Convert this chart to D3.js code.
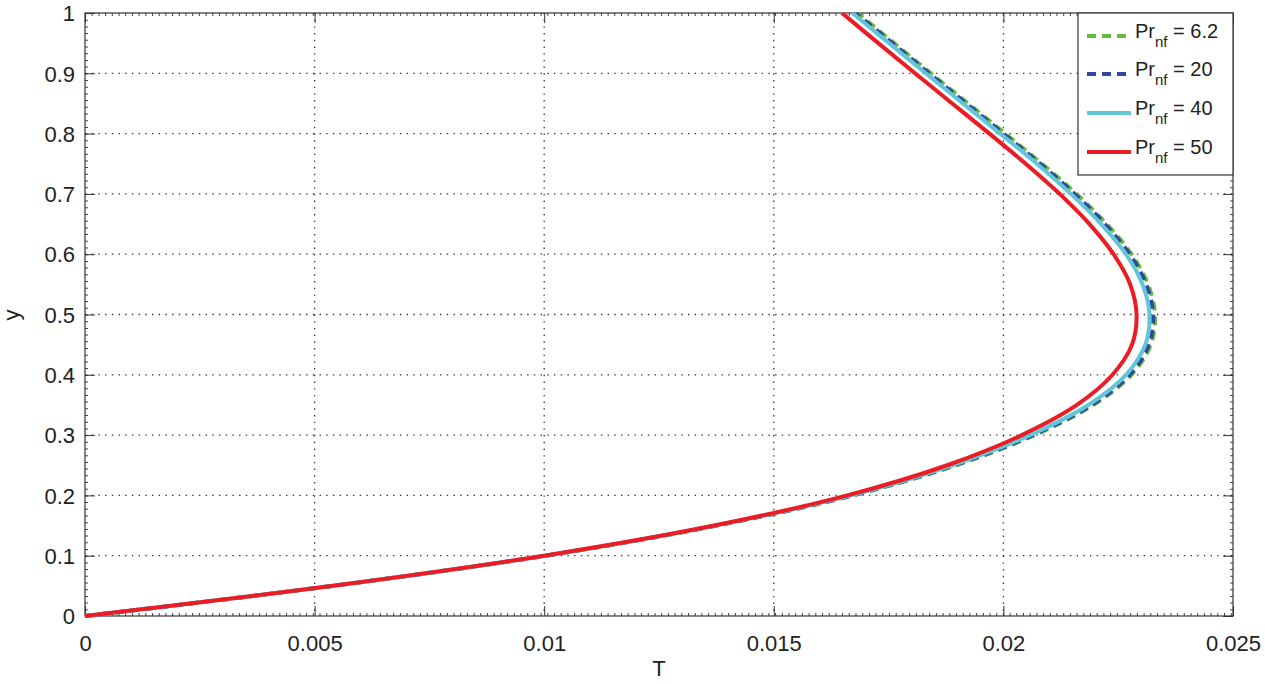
<!DOCTYPE html>
<html><head><meta charset="utf-8">
<script src="https://cdn.jsdelivr.net/npm/d3@7"></script>
<style>body{margin:0;background:#fff}svg{display:block}text{font-family:"Liberation Sans",Arial,Helvetica,sans-serif;fill:#222}</style>
</head><body>
<svg id="c" width="1265" height="683"></svg>
<script>
const yVals = [0,0.05,0.1,0.15,0.2,0.25,0.3,0.35,0.4,0.45,0.5,0.55,0.6,0.65,0.7,0.75,0.8,0.85,0.9,0.95,1.0];
const T_pr62 = [0,0.0054,0.01004,0.01377,0.01673,0.01897,0.02068,0.02196,0.02279,0.02321,0.02330,0.02315,0.02279,0.02225,0.02159,0.02084,0.02004,0.01923,0.01842,0.01762,0.01682];
const T_pr20 = [0,0.0054,0.01003,0.01375,0.01671,0.01894,0.02064,0.02192,0.02275,0.02317,0.02326,0.02311,0.02275,0.02221,0.02155,0.02080,0.02000,0.01919,0.01838,0.01758,0.01678];
const T_pr40 = [0,0.0054,0.01002,0.01373,0.01668,0.01889,0.02058,0.02185,0.02267,0.02309,0.02318,0.02303,0.02267,0.02213,0.02147,0.02073,0.01993,0.01912,0.01831,0.01751,0.01671];
const T_pr50 = [0,0.0054,0.01000,0.01370,0.01660,0.018775,0.02040,0.02160,0.022375,0.02280,0.02290,0.02276,0.02240,0.021875,0.021225,0.020485,0.019695,0.018885,0.018075,0.017275,0.016485];
const seriesNames = ["6.2","20","40","50"];
const xTicks = [0,0.005,0.01,0.015,0.02,0.025];
const yTicks = [0,0.1,0.2,0.3,0.4,0.5,0.6,0.7,0.8,0.9,1];

const series = [
  {name:seriesNames[0], T:T_pr62, color:"#66bb3c", dash:"9,6"},
  {name:seriesNames[1], T:T_pr20, color:"#2d4a9c", dash:"9,6"},
  {name:seriesNames[2], T:T_pr40, color:"#62c6d8", dash:null},
  {name:seriesNames[3], T:T_pr50, color:"#ec1c24", dash:null}
];

const svg = d3.select("#c");
const L=85, R=1233, Tp=13, B=616;
const x = d3.scaleLinear().domain([0,0.025]).range([L,R]);
const y = d3.scaleLinear().domain([0,1]).range([B,Tp]);

// grid
const g = svg.append("g");
g.selectAll(".vg").data(xTicks.slice(1,-1)).enter().append("line")
  .attr("x1",d=>x(d)).attr("x2",d=>x(d)).attr("y1",Tp).attr("y2",B)
  .attr("stroke","#333").attr("stroke-width",1.3).attr("stroke-dasharray","1.4,5.3");
g.selectAll(".hg").data(yTicks.slice(1,-1)).enter().append("line")
  .attr("y1",d=>y(d)).attr("y2",d=>y(d)).attr("x1",L).attr("x2",R)
  .attr("stroke","#333").attr("stroke-width",1.3).attr("stroke-dasharray","1.4,5.3");

// minor tick texture along edges
const edge = [[L,B-1.5,R,B-1.5],[L,Tp+1.5,R,Tp+1.5],[L+1.5,Tp,L+1.5,B],[R-1.5,Tp,R-1.5,B]];
edge.forEach(e=>svg.append("line").attr("x1",e[0]).attr("y1",e[1]).attr("x2",e[2]).attr("y2",e[3])
  .attr("stroke","#444").attr("stroke-width",3).attr("stroke-dasharray","1,5.7"));

// major ticks
const xAxB = d3.axisBottom(x).tickValues(xTicks).tickSize(-10).tickFormat(d=>d3.format("")(+d.toFixed(3)));
const xa = svg.append("g").attr("transform",`translate(0,${B})`).call(xAxB);
xa.select(".domain").remove();
xa.selectAll(".tick line").attr("stroke","#333");
xa.selectAll("text").attr("font-size",22).attr("dy","0.95em").attr("y",14).style("fill","#222");
const xaT = svg.append("g").attr("transform",`translate(0,${Tp})`).call(d3.axisTop(x).tickValues(xTicks).tickSize(-10).tickFormat(""));
xaT.select(".domain").remove(); xaT.selectAll(".tick line").attr("stroke","#333");

const yAxL = d3.axisLeft(y).tickValues(yTicks).tickSize(-10).tickFormat(d=>d3.format("")(+d.toFixed(1)));
const ya = svg.append("g").attr("transform",`translate(${L},0)`).call(yAxL);
ya.select(".domain").remove();
ya.selectAll(".tick line").attr("stroke","#333");
ya.selectAll("text").attr("font-size",22).attr("x",-10).attr("dy","0.35em").style("fill","#222");
const yaR = svg.append("g").attr("transform",`translate(${R},0)`).call(d3.axisRight(y).tickValues(yTicks).tickSize(-10).tickFormat(""));
yaR.select(".domain").remove(); yaR.selectAll(".tick line").attr("stroke","#333");

// box
svg.append("rect").attr("x",L).attr("y",Tp).attr("width",R-L).attr("height",B-Tp)
  .attr("fill","none").attr("stroke","#333").attr("stroke-width",1.2);

// curves
svg.append("defs").append("clipPath").attr("id","clip").append("rect")
  .attr("x",L).attr("y",Tp-0.5).attr("width",R-L).attr("height",B-Tp+3);
const line = d3.line().x(d=>x(d[0])).y(d=>y(d[1])).curve(d3.curveCatmullRom.alpha(0.5));
series.forEach(s=>{
  svg.append("path").datum(s.T.map((t,i)=>[t,yVals[i]]))
    .attr("d",line).attr("fill","none").attr("stroke",s.color).attr("stroke-width",4)
    .attr("stroke-dasharray",s.dash).attr("clip-path","url(#clip)");
});

// legend
const lg = svg.append("g");
lg.append("rect").attr("x",1078).attr("y",Tp).attr("width",R-1078).attr("height",162)
  .attr("fill","#fff").attr("stroke","#333").attr("stroke-width",1.2);
const rowsY = [36,74,113,152];
series.forEach((s,i)=>{
  const cy = rowsY[i];
  lg.append("line").attr("x1",1087).attr("x2",1131).attr("y1",cy).attr("y2",cy)
    .attr("stroke",s.color).attr("stroke-width",4).attr("stroke-dasharray",s.dash);
  const t = lg.append("text").attr("x",1135).attr("y",cy+2).attr("font-size",20);
  t.append("tspan").text("Pr");
  t.append("tspan").attr("font-size",15).attr("dy",9).text("nf");
  t.append("tspan").attr("dy",-9).text(" = "+s.name);
});

// axis titles
svg.append("text").attr("x",(L+R)/2).attr("y",676).attr("text-anchor","middle").attr("font-size",22).text("T");
svg.append("text").attr("transform","translate(19,315) rotate(-90)").attr("text-anchor","middle").attr("font-size",22).text("y");
</script>
</body></html>
